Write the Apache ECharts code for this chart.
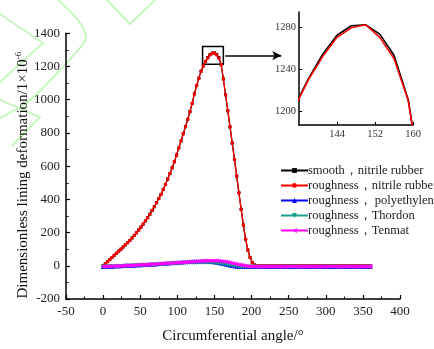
<!DOCTYPE html>
<html><head><meta charset="utf-8">
<script src="https://cdn.jsdelivr.net/npm/echarts@6/dist/echarts.min.js"></script>
<style>html,body{margin:0;padding:0;background:#fff}#c{width:434px;height:349px}</style>
</head><body><div id="c"></div>
<script>
// angles (deg), step 3 from 0 to 360
const angles = [];
for (let a = 0; a <= 360; a += 3) angles.push(a);

const roughNitrile = [0,12,25,38,50,63,75,88,100,113,126,139,152,168,183,199,216,233,251,270,290,311,333,356,380,405,430,460,490,522,555,590,627,667,710,752,795,838,882,928,978,1035,1085,1130,1172,1203,1230,1252,1270,1279,1282,1270,1250,1210,1125,1030,933,836,738,640,540,440,340,245,160,95,50,20,5,0,
0,0,0,0,0,0,0,0,0,0,0,0,0,0,0,0,0,0,0,0,0,0,0,0,0,0,0,0,0,0,0,0,0,0,0,0,0,0,0,0,0,0,0,0,0,0,0,0,0,0,0,0,0];
const smoothNitrile = [0,12,25,38,50,63,75,88,100,113,126,139,152,168,183,199,216,233,251,270,290,311,333,356,380,405,430,460,490,522,555,590,627,667,710,752,795,838,882,928,978,1035,1085,1130,1172,1204,1231,1254,1272,1281,1282,1273,1253,1211,1125,1030,933,836,738,640,540,440,340,245,160,95,50,20,5,0,
0,0,0,0,0,0,0,0,0,0,0,0,0,0,0,0,0,0,0,0,0,0,0,0,0,0,0,0,0,0,0,0,0,0,0,0,0,0,0,0,0,0,0,0,0,0,0,0,0,0,0,0,0];
const polyethylene = [-6,-5,-5,-4,-4,-3,-2,-2,-1,0,0,1,2,2,3,4,5,5,6,7,8,8,9,10,11,12,13,14,15,16,17,18,19,20,21,22,23,24,25,26,26,27,27,28,28,28,28,27,26,25,23,21,18,15,12,9,6,3,0,-2,-4,-5,-6,
-6,-6,-6,-6,-6,-6,-6,-6,-6,-6,-6,-6,-6,-6,-6,-6,-6,-6,-6,-6,-6,-6,-6,-6,-6,-6,-6,-6,-6,-6,-6,-6,-6,-6,-6,-6,-6,-6,-6,-6,-6,-6,-6,-6,-6,-6,-6,-6,-6,-6,-6,-6,-6,-6,-6,-6,-6,-6];
const thordon = [-7,-7,-6,-6,-5,-5,-4,-4,-3,-3,-2,-2,-1,-1,0,0,1,1,2,3,3,4,5,5,6,7,8,8,9,10,11,12,12,13,14,15,16,16,17,18,18,19,19,20,20,20,20,20,19,18,17,16,14,12,10,7,5,2,0,-2,-4,-6,-7,
-7,-7,-7,-7,-7,-7,-7,-7,-7,-7,-7,-7,-7,-7,-7,-7,-7,-7,-7,-7,-7,-7,-7,-7,-7,-7,-7,-7,-7,-7,-7,-7,-7,-7,-7,-7,-7,-7,-7,-7,-7,-7,-7,-7,-7,-7,-7,-7,-7,-7,-7,-7,-7,-7,-7,-7,-7,-7];
const tenmat = [-5,-4,-4,-3,-3,-2,-2,-1,-1,0,1,1,2,3,3,4,5,6,6,7,8,9,10,10,11,12,13,14,15,16,16,17,18,19,20,20,21,22,23,24,25,26,27,28,29,29,30,31,31,31,31,30,29,28,26,24,22,19,16,13,10,7,4,1,-1,-3,-4,-5,
-5,-5,-5,-5,-5,-5,-5,-5,-5,-5,-5,-5,-5,-5,-5,-5,-5,-5,-5,-5,-5,-5,-5,-5,-5,-5,-5,-5,-5,-5,-5,-5,-5,-5,-5,-5,-5,-5,-5,-5,-5,-5,-5,-5,-5,-5,-5,-5,-5,-5,-5,-5,-5];

const seriesNames = ['smooth，nitrile rubber','roughness，nitrile rubber','roughness， polyethylene','roughness，Thordon','roughness，Tenmat'];
const xTicks = [-50,0,50,100,150,200,250,300,350,400];
const yTicks = [-200,0,200,400,600,800,1000,1200,1400];
const insetXTicks = [144,152,160];
const insetYTicks = [1200,1240,1280];

function pairs(vals){ return angles.map((a,i)=>[a, vals[i]]); }
function insetPairs(vals){ return angles.map((a,i)=>[a, vals[i]]).filter(p=>p[0]>=132 && p[0]<=165); }
const plain = v => String(v);

const serif = 'Liberation Serif, Times New Roman, serif';
const chart = echarts.init(document.getElementById('c'), null, {renderer:'canvas'});

const axisCommon = {
  axisLine:{show:true, onZero:false, lineStyle:{color:'#000', width:1.5}},
  axisTick:{show:true, inside:true, length:4, lineStyle:{color:'#000', width:1.2}},
  minorTick:{show:true, splitNumber:2, length:2.5, lineStyle:{color:'#000', width:1}},
  splitLine:{show:false},
  axisLabel:{color:'#222', fontFamily:serif, fontSize:13, margin:6, formatter:plain}
};

const wm = {type:'polyline', silent:true, z:-10, style:{stroke:'#c8f5c0', lineWidth:2, fill:null}};
const option = {
  backgroundColor:'#fff',
  animation:false,
  graphic:[
    Object.assign({}, wm, {shape:{points:[[107,0],[130,24],[155,0]]}}),
    Object.assign({}, wm, {shape:{points:[[0,14],[43,43],[0,82]]}}),
    Object.assign({}, wm, {shape:{smooth:0.3, points:[[58,0],[78,20],[86,37],[80,48],[30,100],[0,118]]}}),
    Object.assign({}, wm, {shape:{points:[[0,100],[40,117],[12,146]]}})
  ],
  legend:{
    orient:'vertical', left:275, top:159, itemWidth:27, itemHeight:6, itemGap:2,
    data:seriesNames,
    textStyle:{fontFamily:serif, fontSize:12.5, color:'#222', padding:[0,0,0,-5]},
    inactiveColor:'#ccc'
  },
  grid:[
    {left:66, right:34, top:33.3, bottom:45.7, containLabel:false},
    {left:299, top:12, width:114, height:113, containLabel:false}
  ],
  xAxis:[
    Object.assign({}, axisCommon, {
      gridIndex:0, type:'value', min:-50, max:400, interval:50,
      name:'Circumferential angle/°', nameLocation:'middle', nameGap:30,
      nameTextStyle:{fontFamily:serif, fontSize:15, color:'#111'}
    }),
    {
      gridIndex:1, type:'value', min:136, max:160,
      axisLine:{show:true, onZero:false, lineStyle:{color:'#000', width:1.5}},
      axisTick:{show:true, inside:true, length:3, customValues:insetXTicks, lineStyle:{color:'#000'}},
      axisLabel:{customValues:insetXTicks, color:'#333', fontFamily:serif, fontSize:10.5, margin:4, formatter:plain},
      splitLine:{show:false}
    }
  ],
  yAxis:[
    Object.assign({}, axisCommon, {
      gridIndex:0, type:'value', min:-200, max:1400, interval:200,
      name:'{a|Dimensionless lining deformation/1×10}{s|-6}', nameLocation:'middle', nameGap:34, nameRotate:90,
      nameMoveOverlap:false,
      nameTextStyle:{padding:[0,18,0,0], rich:{a:{fontFamily:serif, fontSize:15, color:'#111'}, s:{fontFamily:serif, fontSize:9, color:'#111', padding:[0,0,9,0]}}}
    }),
    {
      gridIndex:1, type:'value', min:1187, max:1294,
      axisLine:{show:true, onZero:false, lineStyle:{color:'#000', width:1.5}},
      axisTick:{show:true, inside:true, length:3, customValues:insetYTicks, lineStyle:{color:'#000'}},
      axisLabel:{customValues:insetYTicks, color:'#333', fontFamily:serif, fontSize:10.5, margin:3, formatter:plain},
      splitLine:{show:false}
    }
  ],
  series:[
    {name:seriesNames[0], type:'line', data:pairs(smoothNitrile), symbol:'rect', symbolSize:3, showAllSymbol:true,
     itemStyle:{color:'#000'}, lineStyle:{color:'#000', width:1.3}},
    {name:seriesNames[1], type:'line', data:pairs(roughNitrile), symbol:'circle', symbolSize:3.5, showAllSymbol:true,
     itemStyle:{color:'#ff0000'}, lineStyle:{color:'#ff0000', width:1.3},
     markArea:{silent:true, itemStyle:{color:'rgba(0,0,0,0)', borderColor:'#000', borderWidth:1.5},
       data:[[{xAxis:134, yAxis:1213},{xAxis:162, yAxis:1321}]]},
     markLine:{silent:true, symbol:['none','arrow'], symbolSize:[7,9], label:{show:false},
       lineStyle:{color:'#000', width:1.5, type:'solid'},
       data:[[{coord:[164.5,1266]},{coord:[240,1266]}]]}},
    {name:seriesNames[2], type:'line', data:pairs(polyethylene), symbol:'triangle', symbolSize:4.5, showAllSymbol:true,
     itemStyle:{color:'#0000ff'}, lineStyle:{color:'#0000ff', width:1.3}},
    {name:seriesNames[3], type:'line', data:pairs(thordon), symbol:'triangle', symbolRotate:180, symbolSize:4.5, showAllSymbol:true,
     itemStyle:{color:'#1a9e8e'}, lineStyle:{color:'#1a9e8e', width:1.3}},
    {name:seriesNames[4], type:'line', data:pairs(tenmat), symbol:'triangle', symbolRotate:90, symbolSize:4.5, showAllSymbol:true,
     itemStyle:{color:'#ff00ff'}, lineStyle:{color:'#ff00ff', width:1.3}},
    {name:'inset smooth', type:'line', xAxisIndex:1, yAxisIndex:1, data:insetPairs(smoothNitrile), symbol:'none',
     lineStyle:{color:'#000', width:1.6}, clip:true},
    {name:'inset rough', type:'line', xAxisIndex:1, yAxisIndex:1, data:insetPairs(roughNitrile), symbol:'none',
     lineStyle:{color:'#ff0000', width:1.6}, clip:true}
  ]
};
chart.setOption(option);
</script></body></html>
